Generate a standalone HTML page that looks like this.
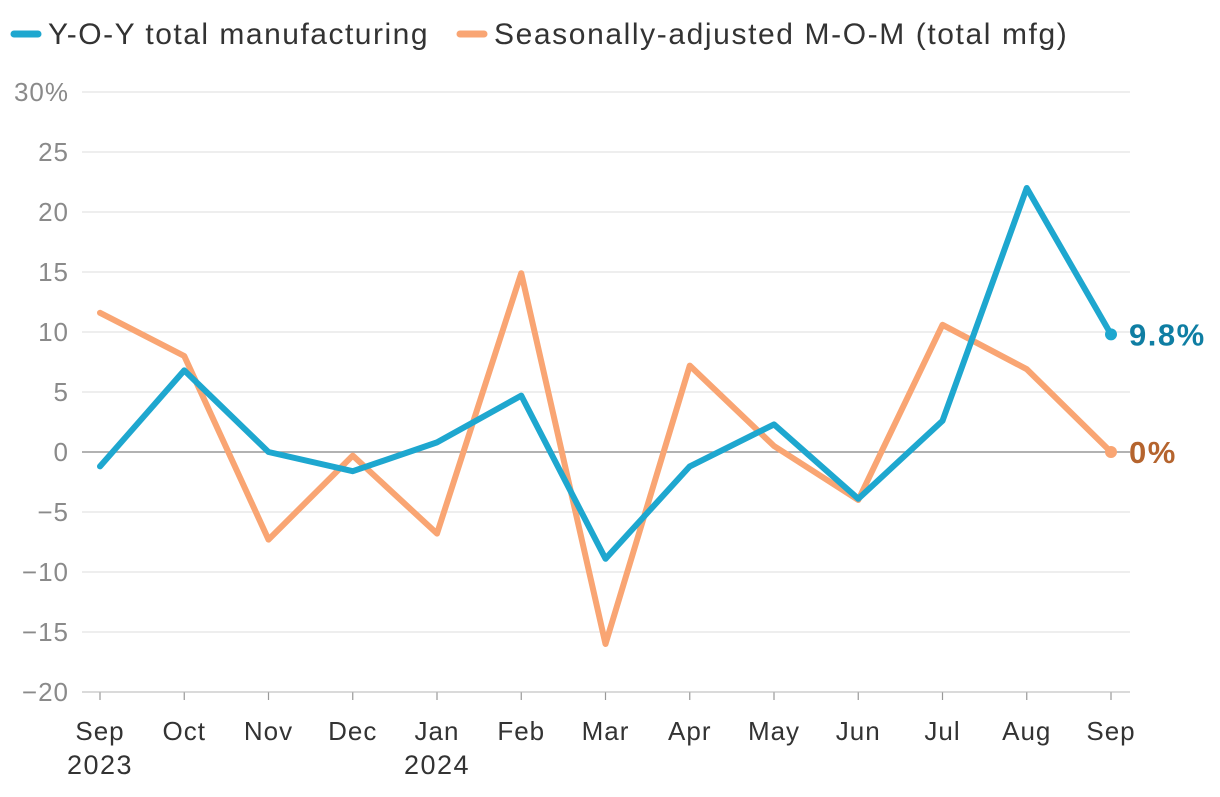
<!DOCTYPE html>
<html><head><meta charset="utf-8"><style>
body{margin:0;background:#fff;font-family:"Liberation Sans",sans-serif}
svg text{font-family:"Liberation Sans",sans-serif}
</style></head><body>
<svg id="chart" width="1220" height="792" xmlns="http://www.w3.org/2000/svg">
<g>
<g><line x1="14" y1="34" x2="38" y2="34" stroke="#1ea7cf" stroke-width="7" stroke-linecap="round"/><text x="48" y="44" font-size="30" letter-spacing="1.5" fill="#333">Y-O-Y total manufacturing</text></g>
<g><line x1="460" y1="34" x2="484" y2="34" stroke="#f9a573" stroke-width="7" stroke-linecap="round"/><text x="494" y="44" font-size="30" letter-spacing="1.6" fill="#333">Seasonally-adjusted M-O-M (total mfg)</text></g>
</g>
<g id="grid"></g><g id="axes"></g><g id="series"></g>
</svg>
<script>
const categories=["Sep","Oct","Nov","Dec","Jan","Feb","Mar","Apr","May","Jun","Jul","Aug","Sep"];
const yearLabels=["2023","","","","2024","","","","","","","",""];
const yoyValues=[-1.2,6.8,0,-1.6,0.8,4.7,-8.9,-1.2,2.3,-3.9,2.6,22,9.8];
const momValues=[11.6,8,-7.3,-0.3,-6.8,14.9,-16,7.2,0.5,-4,10.6,6.9,0];
const yTicks=[30,25,20,15,10,5,0,-5,-10,-15,-20];
const yTickLabels=["30%","25","20","15","10","5","0","\u22125","\u221210","\u221215","\u221220"];
const NS="http://www.w3.org/2000/svg";
const x=i=>100+i*(1011/12);
const y=v=>452-v*12;
function mk(t,a,p){const e=document.createElementNS(NS,t);for(const k in a)e.setAttribute(k,a[k]);p.appendChild(e);return e;}
const grid=document.getElementById('grid'),axes=document.getElementById('axes'),ser=document.getElementById('series');
yTicks.forEach((v,i)=>{
 const l=mk('line',{x1:82,x2:1130,y1:y(v),y2:y(v),stroke:v===0?'#999':'#e4e4e4','stroke-width':v===0?1.5:1.2},grid);
 
 
 const t=mk('text',{x:69,y:y(v)+9,'font-size':26,'letter-spacing':1,fill:'#8a8a8a','text-anchor':'end'},axes);
 t.textContent=yTickLabels[i];
 
 
});
categories.forEach((c,i)=>{
 const tk=mk('line',{x1:x(i),x2:x(i),y1:692,y2:700,stroke:'#999','stroke-width':1.2},axes);
 
 
 const t=mk('text',{x:x(i),y:740,'font-size':26,'letter-spacing':1,fill:'#333','text-anchor':'middle'},axes);
 t.textContent=c;
 
 
 if(yearLabels[i]){const yt=mk('text',{x:x(i),y:774,'font-size':27,'letter-spacing':1.5,fill:'#333','text-anchor':'middle'},axes);
 yt.textContent=yearLabels[i];
 
 }
});
const xl=mk('line',{x1:82,x2:1130,y1:692,y2:692,stroke:'#bbb','stroke-width':1},axes);


function line(vals,color,name,labelColor){
 const p=mk('polyline',{points:vals.map((v,i)=>x(i)+','+y(v)).join(' '),fill:'none',stroke:color,'stroke-width':6,'stroke-linejoin':'round','stroke-linecap':'round'},ser);
 
 
 const n=vals.length-1;
 const c=mk('circle',{cx:x(n),cy:y(vals[n]),r:6,fill:color},ser);
 
 
 const t=mk('text',{x:x(n)+18,y:y(vals[n])+11,'font-size':31,'letter-spacing':1.5,'font-weight':'bold',fill:labelColor},ser);
 t.textContent=vals[n]+'%';
 
 
}
line(momValues,'#f9a573','mom','#b5642e');
line(yoyValues,'#1ea7cf','yoy','#0f7ea3');
</script>
</body></html>
